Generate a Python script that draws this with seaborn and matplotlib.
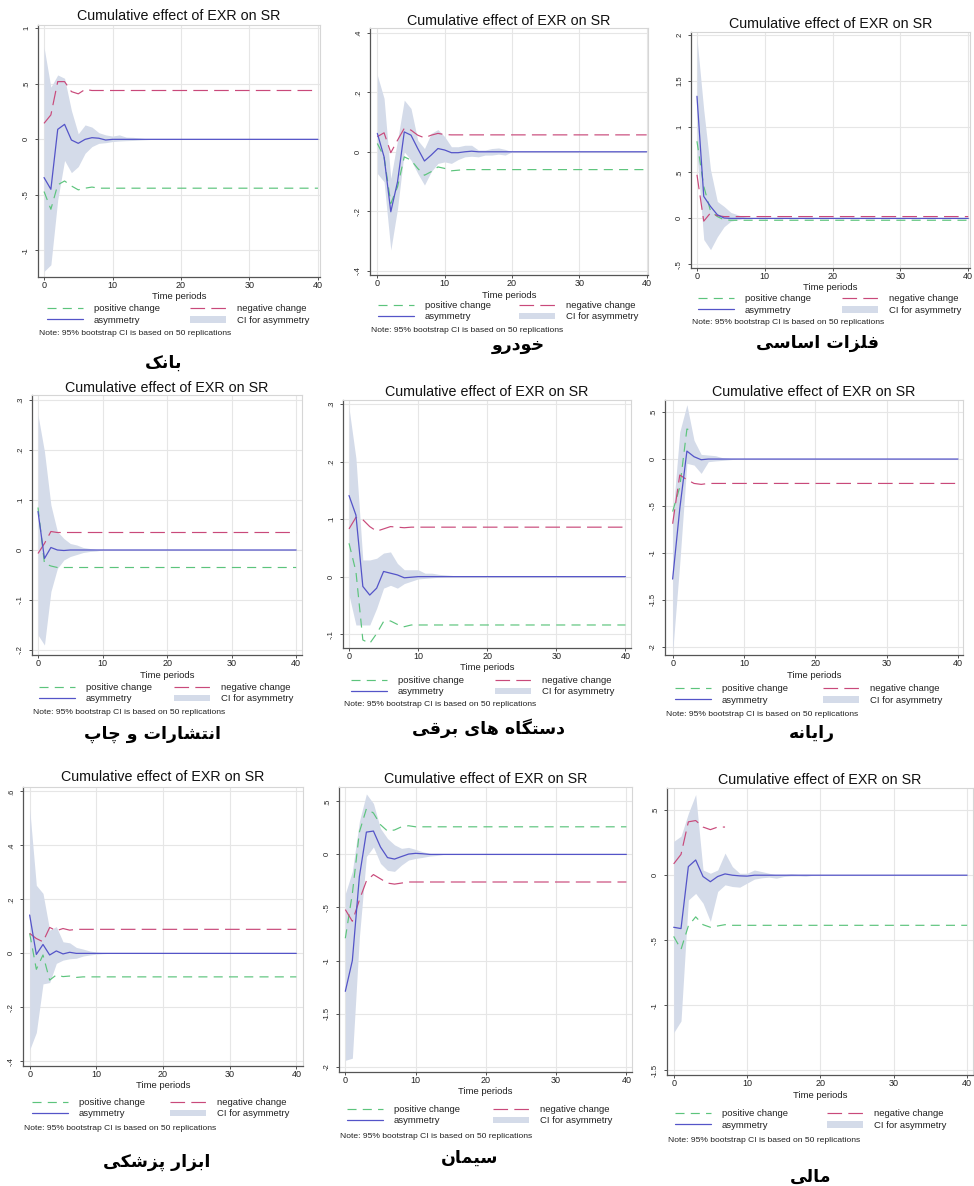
import numpy as np
import pandas as pd
import matplotlib
matplotlib.use("Agg")
import matplotlib.pyplot as plt
import seaborn as sns

# ---------------- DATA ----------------
periods = [0, 1, 2, 3, 4, 5, 6, 7, 8, 9, 10, 11, 12, 13, 14, 15, 16, 17, 18, 19, 20, 40]
nan = np.nan

captions = ["بانک", "خودرو", "فلزات اساسی",
            "انتشارات و چاپ", "دستگاه های برقی", "رایانه",
            "ابزار پزشکی", "سیمان", "مالی"]

title_text = "Cumulative effect of EXR on SR"
xlabel_text = "Time periods"
legend_labels = ["positive change", "asymmetry", "negative change", "CI for asymmetry"]
note_text = "Note: 95% bootstrap CI is based on 50 replications"
xtick_vals = [0, 10, 20, 30, 40]

# Panel 1 - bank
p1_pos = [-0.47, -0.63, -0.41, -0.375, -0.42, -0.455, -0.44, -0.43, -0.44, -0.44, -0.44, -0.44, -0.44, -0.44, -0.44, -0.44, -0.44, -0.44, -0.44, -0.44, -0.44, -0.44]
p1_neg = [0.144, 0.22, 0.52, 0.52, 0.43, 0.41, 0.45, 0.44, 0.44, 0.44, 0.44, 0.44, 0.44, 0.44, 0.44, 0.44, 0.44, 0.44, 0.44, 0.44, 0.44, 0.44]
p1_asym = [-0.344, -0.45, 0.09, 0.135, -0.006, -0.036, 0.0, 0.015, 0.01, -0.006, 0.0, 0.0, 0.0, 0.0, 0.0, 0.0, 0.0, 0.0, 0.0, 0.0, 0.0, 0.0]
p1_lo = [-1.19, -1.13, -0.545, -0.19, -0.30, -0.245, -0.125, -0.065, -0.036, -0.03, -0.02, -0.015, -0.012, -0.01, -0.006, -0.003, 0.0, 0.0, 0.0, 0.0, 0.0, 0.0]
p1_hi = [0.83, 0.47, 0.58, 0.55, 0.26, 0.05, 0.13, 0.11, 0.06, 0.04, 0.03, 0.04, 0.02, 0.018, 0.012, 0.005, 0.0, 0.0, 0.0, 0.0, 0.0, 0.0]
p1_yticks = [-1, -0.5, 0, 0.5, 1]
p1_ylabels = ["-1", "-.5", "0", ".5", "1"]

# Panel 2 - khodro
p2_pos = [0.028, -0.017, -0.174, -0.118, -0.017, -0.028, -0.056, -0.079, -0.067, -0.051, -0.056, -0.064, -0.062, -0.06, -0.06, -0.06, -0.06, -0.06, -0.06, -0.06, -0.06, -0.06]
p2_neg = [0.051, 0.064, -0.003, 0.039, 0.079, 0.073, 0.056, 0.047, 0.056, 0.062, 0.058, 0.057, 0.057, 0.057, 0.057, 0.057, 0.057, 0.057, 0.057, 0.057, 0.057, 0.057]
p2_asym = [0.062, -0.017, -0.202, -0.101, 0.067, 0.056, 0.011, -0.031, -0.011, 0.011, 0.006, -0.003, -0.003, 0.0, 0.002, 0.0, 0.0, 0.0, 0.0, 0.0, 0.0, 0.0]
p2_lo = [-0.073, -0.101, -0.331, -0.191, 0.0, -0.028, -0.073, -0.112, -0.067, -0.039, -0.034, -0.039, -0.026, -0.017, -0.015, -0.017, -0.011, -0.011, -0.008, -0.011, 0.0, 0.0]
p2_hi = [0.258, 0.18, -0.09, 0.039, 0.174, 0.146, 0.039, 0.011, 0.062, 0.075, 0.051, 0.017, 0.017, 0.022, 0.022, 0.006, 0.006, 0.011, 0.013, 0.008, 0.0, 0.0]
p2_yticks = [-0.4, -0.2, 0, 0.2, 0.4]
p2_ylabels = ["-.4", "-.2", "0", ".2", ".4"]

# Panel 3 - basic metals
p3_pos = [0.84, 0.35, 0.08, 0.02, -0.015, -0.02, -0.02, -0.02, -0.02, -0.02, -0.02, -0.02, -0.02, -0.02, -0.02, -0.02, -0.02, -0.02, -0.02, -0.02, -0.02, -0.02]
p3_neg = [0.475, -0.03, 0.06, 0.03, 0.02, 0.02, 0.02, 0.02, 0.02, 0.02, 0.02, 0.02, 0.02, 0.02, 0.02, 0.02, 0.02, 0.02, 0.02, 0.02, 0.02, 0.02]
p3_asym = [1.33, 0.24, 0.13, 0.04, 0.004, 0.0, 0.0, 0.0, 0.0, 0.0, 0.0, 0.0, 0.0, 0.0, 0.0, 0.0, 0.0, 0.0, 0.0, 0.0, 0.0, 0.0]
p3_lo = [0.7, -0.23, -0.34, -0.2, -0.09, -0.03, -0.015, 0.0, 0.0, 0.0, 0.0, 0.0, 0.0, 0.0, 0.0, 0.0, 0.0, 0.0, 0.0, 0.0, 0.0, 0.0]
p3_hi = [1.96, 1.18, 0.53, 0.185, 0.13, 0.065, 0.04, 0.015, 0.0, 0.0, 0.0, 0.0, 0.0, 0.0, 0.0, 0.0, 0.0, 0.0, 0.0, 0.0, 0.0, 0.0]
p3_yticks = [-0.5, 0, 0.5, 1, 1.5, 2]
p3_ylabels = ["-.5", "0", ".5", "1", "1.5", "2"]

# Panel 4 - publishing and printing
p4_pos = [0.085, -0.027, -0.032, -0.035, -0.035, -0.035, -0.035, -0.035, -0.035, -0.035, -0.035, -0.035, -0.035, -0.035, -0.035, -0.035, -0.035, -0.035, -0.035, -0.035, -0.035, -0.035]
p4_neg = [-0.007, 0.013, 0.037, 0.035, 0.035, 0.035, 0.035, 0.035, 0.035, 0.035, 0.035, 0.035, 0.035, 0.035, 0.035, 0.035, 0.035, 0.035, 0.035, 0.035, 0.035, 0.035]
p4_asym = [0.077, -0.017, 0.005, 0.0, -0.001, 0.0, 0.0, 0.0, 0.0, 0.0, 0.0, 0.0, 0.0, 0.0, 0.0, 0.0, 0.0, 0.0, 0.0, 0.0, 0.0, 0.0]
p4_lo = [-0.17, -0.19, -0.083, -0.037, -0.02, -0.013, -0.009, -0.005, -0.003, -0.002, 0.0, 0.0, 0.0, 0.0, 0.0, 0.0, 0.0, 0.0, 0.0, 0.0, 0.0, 0.0]
p4_hi = [0.27, 0.197, 0.09, 0.037, 0.023, 0.013, 0.01, 0.005, 0.003, 0.001, 0.0, 0.0, 0.0, 0.0, 0.0, 0.0, 0.0, 0.0, 0.0, 0.0, 0.0, 0.0]
p4_yticks = [-0.2, -0.1, 0, 0.1, 0.2, 0.3]
p4_ylabels = ["-.2", "-.1", "0", ".1", ".2", ".3"]

# Panel 5 - electrical devices
p5_pos = [0.058, 0.009, -0.11, -0.116, -0.099, -0.078, -0.077, -0.083, -0.087, -0.084, -0.084, -0.084, -0.084, -0.084, -0.084, -0.084, -0.084, -0.084, -0.084, -0.084, -0.084, -0.084]
p5_neg = [0.083, 0.103, 0.099, 0.087, 0.079, 0.083, 0.087, 0.086, 0.085, 0.086, 0.086, 0.086, 0.086, 0.086, 0.086, 0.086, 0.086, 0.086, 0.086, 0.086, 0.086, 0.086]
p5_asym = [0.141, 0.107, -0.017, -0.032, -0.02, 0.009, 0.006, 0.003, -0.002, -0.001, 0.0, 0.0, 0.0, 0.0, 0.0, 0.0, 0.0, 0.0, 0.0, 0.0, 0.0, 0.0]
p5_lo = [-0.032, -0.084, -0.084, -0.084, -0.055, -0.02, -0.015, -0.02, -0.012, -0.008, -0.004, -0.003, -0.002, -0.001, 0.0, 0.0, 0.0, 0.0, 0.0, 0.0, 0.0, 0.0]
p5_hi = [0.293, 0.206, 0.029, 0.029, 0.032, 0.041, 0.043, 0.023, 0.012, 0.012, 0.012, 0.006, 0.006, 0.004, 0.003, 0.002, 0.0, 0.0, 0.0, 0.0, 0.0, 0.0]
p5_yticks = [-0.1, 0, 0.1, 0.2, 0.3]
p5_ylabels = ["-.1", "0", ".1", ".2", ".3"]

# Panel 6 - computer
p6_pos = [-0.56, -0.3, 0.32, 0.3, nan, nan, nan, nan, nan, nan, nan, nan, nan, nan, nan, nan, nan, nan, nan, nan, nan, nan]
p6_neg = [-0.69, -0.17, -0.22, -0.26, -0.27, -0.26, -0.26, -0.26, -0.26, -0.26, -0.26, -0.26, -0.26, -0.26, -0.26, -0.26, -0.26, -0.26, -0.26, -0.26, -0.26, -0.26]
p6_asym = [-1.28, -0.53, 0.085, 0.025, -0.007, 0.0, 0.0, 0.0, 0.0, 0.0, 0.0, 0.0, 0.0, 0.0, 0.0, 0.0, 0.0, 0.0, 0.0, 0.0, 0.0, 0.0]
p6_lo = [-2.06, -1.11, -0.046, -0.064, -0.153, -0.028, -0.02, -0.014, -0.007, 0.0, 0.0, 0.0, 0.0, 0.0, 0.0, 0.0, 0.0, 0.0, 0.0, 0.0, 0.0, 0.0]
p6_hi = [-0.63, 0.29, 0.58, 0.2, 0.05, 0.043, 0.036, 0.014, 0.007, 0.0, 0.0, 0.0, 0.0, 0.0, 0.0, 0.0, 0.0, 0.0, 0.0, 0.0, 0.0, 0.0]
p6_yticks = [-2, -1.5, -1, -0.5, 0, 0.5]
p6_ylabels = ["-2", "-1.5", "-1", "-.5", "0", ".5"]

# Panel 7 - medical instruments
p7_pos = [0.074, -0.059, -0.006, -0.099, -0.08, -0.086, -0.084, -0.089, -0.087, -0.087, -0.087, -0.087, -0.087, -0.087, -0.087, -0.087, -0.087, -0.087, -0.087, -0.087, -0.087, -0.087]
p7_neg = [0.074, 0.055, 0.043, 0.096, 0.084, 0.092, 0.086, 0.089, 0.089, 0.089, 0.089, 0.089, 0.089, 0.089, 0.089, 0.089, 0.089, 0.089, 0.089, 0.089, 0.089, 0.089]
p7_asym = [0.142, -0.004, 0.033, -0.006, 0.009, -0.002, 0.004, 0.0, 0.0, 0.0, 0.0, 0.0, 0.0, 0.0, 0.0, 0.0, 0.0, 0.0, 0.0, 0.0, 0.0, 0.0]
p7_lo = [-0.357, -0.293, -0.113, -0.108, -0.037, -0.025, -0.02, -0.018, -0.01, -0.006, -0.003, -0.001, 0.0, 0.0, 0.0, 0.0, 0.0, 0.0, 0.0, 0.0, 0.0, 0.0]
p7_hi = [0.536, 0.252, 0.222, 0.086, 0.099, 0.043, 0.039, 0.022, 0.016, 0.009, 0.005, 0.002, 0.0, 0.0, 0.0, 0.0, 0.0, 0.0, 0.0, 0.0, 0.0, 0.0]
p7_yticks = [-0.4, -0.2, 0, 0.2, 0.4, 0.6]
p7_ylabels = ["-.4", "-.2", "0", ".2", ".4", ".6"]

# Panel 8 - cement
p8_pos = [-0.79, -0.37, 0.21, 0.43, 0.39, 0.28, 0.22, 0.23, 0.26, 0.27, 0.26, 0.26, 0.26, 0.26, 0.26, 0.26, 0.26, 0.26, 0.26, 0.26, 0.26, 0.26]
p8_neg = [-0.52, -0.63, -0.43, -0.25, -0.19, -0.23, -0.27, -0.28, -0.27, -0.26, -0.26, -0.26, -0.26, -0.26, -0.26, -0.26, -0.26, -0.26, -0.26, -0.26, -0.26, -0.26]
p8_asym = [-1.29, -1.0, -0.21, 0.21, 0.22, 0.07, -0.03, -0.044, -0.02, 0.003, 0.01, 0.006, 0.0, 0.0, 0.0, 0.0, 0.0, 0.0, 0.0, 0.0, 0.0, 0.0]
p8_lo = [-1.94, -1.92, -0.78, -0.02, 0.07, -0.085, -0.15, -0.16, -0.1, -0.053, -0.038, -0.028, -0.016, -0.01, 0.0, 0.0, 0.0, 0.0, 0.0, 0.0, 0.0, 0.0]
p8_hi = [-0.37, -0.16, 0.31, 0.57, 0.48, 0.245, 0.15, 0.09, 0.057, 0.066, 0.047, 0.025, 0.01, 0.0, 0.0, 0.0, 0.0, 0.0, 0.0, 0.0, 0.0, 0.0]
p8_yticks = [-2, -1.5, -1, -0.5, 0, 0.5]
p8_ylabels = ["-2", "-1.5", "-1", "-.5", "0", ".5"]

# Panel 9 - financial
p9_pos = [-0.47, -0.57, -0.39, -0.32, -0.38, -0.4, -0.39, -0.38, -0.385, -0.385, -0.385, -0.385, -0.385, -0.385, -0.385, -0.385, -0.385, -0.385, -0.385, -0.385, -0.385, -0.385]
p9_neg = [0.087, 0.16, 0.41, 0.42, 0.37, 0.35, 0.37, 0.37, nan, nan, nan, nan, nan, nan, nan, nan, nan, nan, nan, nan, nan, nan]
p9_asym = [-0.4, -0.41, 0.066, 0.117, -0.01, -0.05, -0.01, 0.01, 0.0, -0.005, -0.007, 0.0, 0.0, 0.0, 0.0, 0.0, 0.0, 0.0, 0.0, 0.0, 0.0, 0.0]
p9_lo = [-1.21, -1.12, -0.19, -0.14, -0.215, -0.355, -0.125, -0.074, -0.087, -0.092, -0.061, -0.03, -0.02, -0.015, -0.023, -0.01, -0.005, -0.005, -0.008, 0.0, 0.0, 0.0]
p9_hi = [0.26, 0.3, 0.475, 0.62, 0.04, 0.015, 0.04, 0.17, 0.066, 0.015, 0.015, 0.04, 0.028, 0.015, 0.003, 0.003, 0.01, 0.005, 0.003, 0.0, 0.0, 0.0]
p9_yticks = [-1.5, -1, -0.5, 0, 0.5]
p9_ylabels = ["-1.5", "-1", "-.5", "0", ".5"]

# ---------------- LAYOUT (pixels) ----------------
# box=(left, top, right, bottom), title_y, xlabel_y, legend rows, legend x, 2nd column x, note_y, caption (x, y)
LAYOUT = [
    dict(box=(38, 25, 320, 277), xlim=(-0.88, 40.3), ylim=(-1.24, 1.03), ty=16, xly=294, lr=(308, 321), lx=47, c2=190, ny=333, cap=(164, 363)),
    dict(box=(370, 28, 648, 275), xlim=(-1.09, 40.2), ylim=(-0.415, 0.417), ty=21, xly=292, lr=(305, 317), lx=378, c2=519, ny=330, cap=(518, 345)),
    dict(box=(691, 32, 970, 268), xlim=(-0.88, 40.25), ylim=(-0.54, 2.03), ty=24, xly=286, lr=(298, 311), lx=698, c2=842, ny=323, cap=(818, 343)),
    dict(box=(32, 395, 302, 655), xlim=(-0.93, 40.9), ylim=(-0.21, 0.31), ty=388, xly=672, lr=(687, 699), lx=39, c2=174, ny=713, cap=(153, 734)),
    dict(box=(343, 400, 631, 648), xlim=(-0.87, 40.8), ylim=(-0.124, 0.307), ty=392, xly=666, lr=(680, 692), lx=351, c2=495, ny=705, cap=(488, 728)),
    dict(box=(665, 400, 963, 655), xlim=(-1.07, 40.7), ylim=(-2.09, 0.63), ty=392, xly=674, lr=(688, 701), lx=675, c2=823, ny=715, cap=(812, 733)),
    dict(box=(23, 787, 303, 1066), xlim=(-1.0, 41.0), ylim=(-0.417, 0.616), ty=777, xly=1085, lr=(1101, 1115), lx=32, c2=170, ny=1129, cap=(157, 1162)),
    dict(box=(339, 787, 632, 1072), xlim=(-0.9, 40.8), ylim=(-2.05, 0.635), ty=779, xly=1092, lr=(1108, 1122), lx=347, c2=493, ny=1137, cap=(470, 1158)),
    dict(box=(667, 788, 973, 1075), xlim=(-0.91, 40.8), ylim=(-1.535, 0.67), ty=780, xly=1096, lr=(1112, 1127), lx=675, c2=827, ny=1140, cap=(811, 1177)),
]

PANELS = [
    (p1_pos, p1_neg, p1_asym, p1_lo, p1_hi, p1_yticks, p1_ylabels),
    (p2_pos, p2_neg, p2_asym, p2_lo, p2_hi, p2_yticks, p2_ylabels),
    (p3_pos, p3_neg, p3_asym, p3_lo, p3_hi, p3_yticks, p3_ylabels),
    (p4_pos, p4_neg, p4_asym, p4_lo, p4_hi, p4_yticks, p4_ylabels),
    (p5_pos, p5_neg, p5_asym, p5_lo, p5_hi, p5_yticks, p5_ylabels),
    (p6_pos, p6_neg, p6_asym, p6_lo, p6_hi, p6_yticks, p6_ylabels),
    (p7_pos, p7_neg, p7_asym, p7_lo, p7_hi, p7_yticks, p7_ylabels),
    (p8_pos, p8_neg, p8_asym, p8_lo, p8_hi, p8_yticks, p8_ylabels),
    (p9_pos, p9_neg, p9_asym, p9_lo, p9_hi, p9_yticks, p9_ylabels),
]

# ---------------- Arabic-script shaping (matplotlib has no shaping engine) ----------------
FORMS = {
    'ا': ('\uFE8D', '\uFE8E', None, None),
    'ب': ('\uFE8F', '\uFE90', '\uFE91', '\uFE92'),
    'پ': ('\uFB56', '\uFB57', '\uFB58', '\uFB59'),
    'ت': ('\uFE95', '\uFE96', '\uFE97', '\uFE98'),
    'چ': ('\uFB7A', '\uFB7B', '\uFB7C', '\uFB7D'),
    'خ': ('\uFEA5', '\uFEA6', '\uFEA7', '\uFEA8'),
    'د': ('\uFEA9', '\uFEAA', None, None),
    'ر': ('\uFEAD', '\uFEAE', None, None),
    'ز': ('\uFEAF', '\uFEB0', None, None),
    'ژ': ('\uFB8A', '\uFB8B', None, None),
    'س': ('\uFEB1', '\uFEB2', '\uFEB3', '\uFEB4'),
    'ش': ('\uFEB5', '\uFEB6', '\uFEB7', '\uFEB8'),
    'ف': ('\uFED1', '\uFED2', '\uFED3', '\uFED4'),
    'ق': ('\uFED5', '\uFED6', '\uFED7', '\uFED8'),
    'ک': ('\uFB8E', '\uFB8F', '\uFB90', '\uFB91'),
    'گ': ('\uFB92', '\uFB93', '\uFB94', '\uFB95'),
    'ل': ('\uFEDD', '\uFEDE', '\uFEDF', '\uFEE0'),
    'م': ('\uFEE1', '\uFEE2', '\uFEE3', '\uFEE4'),
    'ن': ('\uFEE5', '\uFEE6', '\uFEE7', '\uFEE8'),
    'و': ('\uFEED', '\uFEEE', None, None),
    'ه': ('\uFEE9', '\uFEEA', '\uFEEB', '\uFEEC'),
    'ی': ('\uFBFC', '\uFBFD', '\uFBFE', '\uFBFF'),
}


def shape_rtl(s):
    out = []
    for i, c in enumerate(s):
        if c not in FORMS:
            out.append(c)
            continue
        prev = s[i - 1] if i > 0 else ''
        nxt = s[i + 1] if i + 1 < len(s) else ''
        jp = prev in FORMS and FORMS[prev][2] is not None
        jn = FORMS[c][2] is not None and nxt in FORMS
        iso, fin, ini, med = FORMS[c]
        if jp and jn:
            out.append(med)
        elif jp:
            out.append(fin)
        elif jn:
            out.append(ini)
        else:
            out.append(iso)
    return ''.join(reversed(out))


# ---------------- STYLE ----------------
sns.set_theme(style="white")
plt.rcParams['font.family'] = ['Liberation Sans', 'DejaVu Sans']
plt.rcParams['lines.scale_dashes'] = False

GREEN = '#5cc47c'
RED = '#c9497a'
BLUE = '#5454c8'
CIFILL = '#d4dbe9'
TXT = '#222222'

W, H = 974, 1186
fig = plt.figure(figsize=(W / 100, H / 100), dpi=100)
fig.patch.set_facecolor('white')


def fx(x):
    return x / W


def fy(y):
    return 1 - y / H


for (pos, neg, asym, lo, hi, yt, yl), L, cap in zip(PANELS, LAYOUT, captions):
    l, t, r, b = L['box']
    ax = fig.add_axes([fx(l), fy(b), (r - l) / W, (b - t) / H])
    df = pd.DataFrame({'period': periods, 'pos': pos, 'neg': neg, 'asym': asym, 'lo': lo, 'hi': hi})

    ci = ax.fill_between(df['period'], df['lo'], df['hi'], color=CIFILL, lw=0, zorder=1)
    sns.lineplot(data=df, x='period', y='pos', ax=ax, color=GREEN, lw=0.85,
                 linestyle=(0, (6.5, 4.5)), zorder=3)
    h_pos = ax.lines[-1]
    sns.lineplot(data=df, x='period', y='neg', ax=ax, color=RED, lw=0.85,
                 linestyle=(0, (10.5, 4.5)), zorder=3)
    h_neg = ax.lines[-1]
    sns.lineplot(data=df, x='period', y='asym', ax=ax, color=BLUE, lw=0.9, zorder=4)
    h_asym = ax.lines[-1]

    ax.set_xlim(*L['xlim'])
    ax.set_ylim(*L['ylim'])
    ax.set_xticks(xtick_vals)
    ax.set_xticklabels([str(v) for v in xtick_vals])
    ax.set_yticks(yt)
    ax.set_yticklabels(yl, rotation=90, va='center')
    ax.set_xlabel('')
    ax.set_ylabel('')
    ax.grid(True, color='#e6e6e6', lw=0.8)
    ax.set_axisbelow(True)
    ax.tick_params(axis='x', length=2.2, width=0.6, pad=0.5, labelsize=6.5, colors='#333333', labelcolor=TXT)
    ax.tick_params(axis='y', length=2.2, width=0.6, pad=3.5, labelsize=5.5, colors='#333333', labelcolor=TXT)
    ax.tick_params(left=True, bottom=True)
    for sp in ['left', 'bottom']:
        ax.spines[sp].set_color('#555555')
        ax.spines[sp].set_linewidth(0.9)
    for sp in ['top', 'right']:
        ax.spines[sp].set_color('#d6d6d6')
        ax.spines[sp].set_linewidth(0.8)
    if ax.get_legend() is not None:
        ax.get_legend().remove()

    cx = (l + r) / 2
    fig.text(fx(cx), fy(L['ty']), title_text, ha='center', va='center', fontsize=10.3, color='#111111')
    fig.text(fx(cx), fy(max(L['xly'], b + 20)), xlabel_text, ha='center', va='center', fontsize=6.8, color=TXT)

    fs = 6.8
    fs_px = fs * 100 / 72
    col1_width = 3.8 * fs_px + 1.15 * fs_px + 65.6
    colsp = max((L['c2'] - L['lx'] - col1_width) / fs_px, 0.5)
    r1, r2 = L['lr']
    fig.legend(handles=[h_pos, h_asym, h_neg, ci], labels=legend_labels,
               loc='center left', bbox_to_anchor=(fx(L['lx']), fy((r1 + r2) / 2)),
               bbox_transform=fig.transFigure, ncol=2, frameon=False, fontsize=fs,
               handlelength=3.8, handletextpad=1.15, columnspacing=colsp,
               labelspacing=0.25, borderpad=0, borderaxespad=0, labelcolor=TXT)

    fig.text(fx(l + 1), fy(L['ny']), note_text, ha='left', va='center', fontsize=6.1, color=TXT)
    fig.text(fx(L['cap'][0]), fy(L['cap'][1]), shape_rtl(cap), ha='center', va='center',
             fontsize=12.5, fontweight='bold', family=['DejaVu Sans'], color='black')

fig.savefig('out.png', dpi=100, facecolor='white')
